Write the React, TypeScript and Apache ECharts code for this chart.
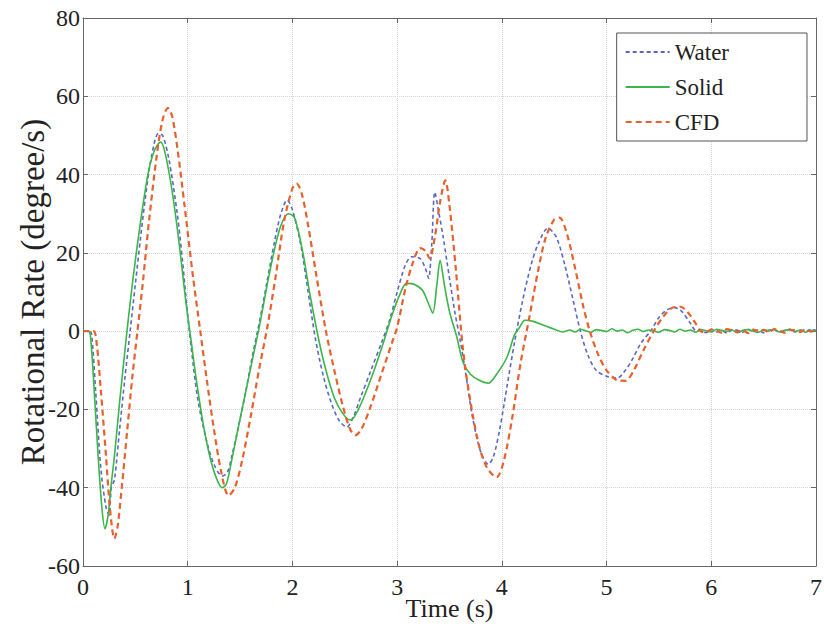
import React, { useEffect, useRef } from "react";
import * as echarts from "echarts";

// ---- Data ----
const X_TICKS = [0, 1, 2, 3, 4, 5, 6, 7];
const Y_TICKS = [-60, -40, -20, 0, 20, 40, 60, 80];

const waterT = [0, 0.05, 0.08, 0.12, 0.17, 0.22, 0.25, 0.27, 0.3, 0.35, 0.4, 0.45, 0.5, 0.55, 0.6, 0.65, 0.72, 0.76, 0.82, 0.9, 0.95, 1.0, 1.05, 1.1, 1.18, 1.25, 1.33, 1.38, 1.42, 1.48, 1.55, 1.62, 1.69, 1.76, 1.83, 1.89, 1.95, 2.0, 2.08, 2.15, 2.22, 2.3, 2.38, 2.45, 2.52, 2.58, 2.65, 2.75, 2.85, 2.93, 3.0, 3.08, 3.14, 3.22, 3.27, 3.3, 3.33, 3.36, 3.4, 3.44, 3.48, 3.55, 3.6, 3.65, 3.72, 3.8, 3.87, 3.92, 3.98, 4.05, 4.12, 4.2, 4.28, 4.35, 4.44, 4.52, 4.6, 4.68, 4.75, 4.82, 4.9, 5.0, 5.1, 5.18, 5.25, 5.33, 5.42, 5.5, 5.58, 5.65, 5.72, 5.8, 5.86];
const waterV = [0, 0, -0.5, -15, -35, -45, -47, -40, -38, -25, -12, 0, 12, 24, 35, 44, 50.5, 50, 44, 30, 18, 4, -8, -18, -28, -34, -37, -36, -32, -25, -16, -6, 3, 13, 23, 30, 33.5, 31, 22, 10, -2, -12, -19, -23, -24.5, -22, -17, -10, -3, 3, 10, 17, 19, 18.5, 16, 13.5, 22, 35.5, 30, 24, 17, 5, -2, -10, -22, -31, -34, -32, -25, -14, -3, 8, 17, 22.5, 26.3, 24, 17, 8, 0, -6, -10, -11.5, -12, -10, -7, -3, 0, 3.5, 5.5, 6, 5, 2, 0];
const waterTailStart = 5.9;
const waterTail = [0.3, -0.4, 0.5, -0.2, 0.1, -0.5, 0.4, 0.2, -0.3, 0.5, -0.1, 0.3, -0.4, 0.2, 0.4, -0.3, 0.1, 0.5, -0.2, 0.3, -0.1, 0.4, 0.2];

const solidT = [0, 0.05, 0.07, 0.1, 0.14, 0.18, 0.21, 0.24, 0.27, 0.3, 0.35, 0.42, 0.48, 0.55, 0.62, 0.68, 0.74, 0.78, 0.85, 0.92, 0.98, 1.03, 1.08, 1.15, 1.22, 1.28, 1.33, 1.37, 1.42, 1.48, 1.55, 1.62, 1.69, 1.76, 1.83, 1.89, 1.96, 2.02, 2.1, 2.17, 2.25, 2.32, 2.4, 2.48, 2.55, 2.6, 2.68, 2.78, 2.88, 2.95, 3.02, 3.09, 3.16, 3.24, 3.3, 3.34, 3.38, 3.41, 3.45, 3.5, 3.57, 3.63, 3.7, 3.78, 3.87, 3.95, 4.05, 4.12, 4.17, 4.22, 4.3, 4.4, 4.5, 4.58];
const solidV = [0, 0, -1, -12, -30, -45, -50.5, -47, -39, -32, -18, 0, 14, 28, 40, 46, 48.3, 46, 36, 22, 8, -2, -12, -24, -33, -38, -40, -39, -33, -25, -16, -7, 2, 12, 21, 27, 30, 29, 20, 9, -2, -10, -17, -21, -22.7, -21.5, -17, -10, -2, 4, 9, 12.2, 12, 10.5, 7, 4.6, 12, 18.1, 12, 5, -1.5, -8, -11, -12.5, -13.3, -11, -6.6, -1, 1, 2.8, 2.5, 1.5, 0.5, -0.2];
const solidTailStart = 4.65;
const solidTail = [0.3, -0.2, 0.5, 0.1, -0.3, 0.4, 0.2, -0.1, 0.6, 0.0, 0.3, -0.4, 0.2, 0.5, -0.1, 0.3, 0.1, -0.3, 0.4, 0.2, -0.2, 0.5, 0.0, 0.3, -0.3, 0.4, 0.1, -0.2, 0.5, 0.2, -0.1, 0.3, -0.4, 0.2, 0.4, 0.0, -0.3, 0.3, 0.1, 0.5, -0.2, 0.2, 0.4, -0.1, 0.3, -0.3, 0.2, 0.1];

const cfdT = [0, 0.1, 0.13, 0.17, 0.22, 0.26, 0.3, 0.33, 0.37, 0.42, 0.47, 0.52, 0.57, 0.63, 0.7, 0.76, 0.81, 0.85, 0.9, 0.97, 1.05, 1.12, 1.18, 1.25, 1.32, 1.39, 1.45, 1.52, 1.6, 1.68, 1.76, 1.84, 1.92, 2.0, 2.04, 2.09, 2.15, 2.23, 2.32, 2.4, 2.48, 2.55, 2.6, 2.66, 2.75, 2.85, 2.95, 3.0, 3.08, 3.15, 3.22, 3.27, 3.31, 3.36, 3.41, 3.46, 3.5, 3.56, 3.63, 3.7, 3.78, 3.86, 3.95, 4.02, 4.1, 4.18, 4.27, 4.35, 4.42, 4.5, 4.55, 4.62, 4.7, 4.78, 4.84, 4.92, 5.0, 5.1, 5.18, 5.26, 5.35, 5.45, 5.55, 5.63, 5.7, 5.77, 5.85, 5.9];
const cfdV = [0, 0, -3, -15, -32, -46, -53, -50, -40, -26, -12, 0, 12, 28, 44, 54, 57, 55, 47, 32, 14, 0, -12, -25, -36, -42, -40, -33, -22, -10, 1, 14, 28, 36.5, 37.7, 35, 27, 14, 0, -10, -19, -25, -26.6, -25, -19, -11, -3, 1, 11, 17.5, 21.2, 20.5, 18.6, 24, 33, 38.5, 32, 16, -5, -18, -29, -35, -37.3, -33, -22, -8, 4.6, 16, 24, 28.5, 29, 25, 16, 6, 0, -6, -10, -12.5, -12.7, -10, -5, 0, 4, 6, 6.3, 5, 2, 0];
const cfdTailStart = 5.95;
const cfdTail = [-0.3, 0.4, 0.1, -0.4, 0.5, 0.2, -0.2, 0.3, -0.5, 0.4, 0.0, 0.3, -0.3, 0.5, 0.1, -0.4, 0.3, 0.2, -0.2, 0.4, -0.1, 0.2];

const TAIL_STEP = 0.05;

function buildSeries(ts: number[], vs: number[], tailStart: number, tail: number[]) {
  const pts: number[][] = ts.map((t, i) => [t, vs[i]]);
  tail.forEach((v, i) => {
    pts.push([+(tailStart + i * TAIL_STEP).toFixed(3), v]);
  });
  return pts;
}

const FONT = "'Liberation Serif', 'DejaVu Serif', serif";

export default function App() {
  const ref = useRef<HTMLDivElement>(null);
  useEffect(() => {
    if (!ref.current) return;
    const chart = echarts.init(ref.current, undefined, { renderer: "svg" });
    const frame = "#666";
    const baseX = {
      type: "value" as const,
      min: X_TICKS[0],
      max: X_TICKS[X_TICKS.length - 1],
      interval: 1,
    };
    const baseY = {
      type: "value" as const,
      min: Y_TICKS[0],
      max: Y_TICKS[Y_TICKS.length - 1],
      interval: 20,
    };
    chart.setOption({
      animation: false,
      backgroundColor: "#fff",
      textStyle: { fontFamily: FONT },
      grid: { left: 83, top: 18, right: 8, bottom: 66, containLabel: false, outerBoundsMode: "none" },
      legend: {
        orient: "vertical",
        right: 17,
        top: 33,
        backgroundColor: "#fff",
        borderColor: "#555",
        borderWidth: 1,
        padding: [7, 78, 7, 8],
        itemWidth: 44,
        itemHeight: 14,
        itemGap: 11,
        itemStyle: { opacity: 0 },
        textStyle: { fontFamily: FONT, fontSize: 23, color: "#222", lineHeight: 24 },
        data: ["Water", "Solid", "CFD"],
      },
      xAxis: [
        {
          ...baseX,
          name: "Time (s)",
          nameLocation: "middle",
          nameGap: 29,
          nameMoveOverlap: false,
          nameTextStyle: { fontFamily: FONT, fontSize: 26, color: "#222" },
          axisLine: { show: true, onZero: false, lineStyle: { color: frame } },
          axisTick: { show: true, inside: true, length: 5, lineStyle: { color: frame } },
          axisLabel: { fontFamily: FONT, fontSize: 24, color: "#222", margin: 9 },
          splitLine: { show: true, lineStyle: { color: "#d6d6d6", type: "dotted" } },
        },
        {
          ...baseX,
          position: "top",
          axisLine: { show: true, onZero: false, lineStyle: { color: frame } },
          axisTick: { show: true, inside: true, length: 5, lineStyle: { color: frame } },
          axisLabel: { show: false },
          splitLine: { show: false },
        },
      ],
      yAxis: [
        {
          ...baseY,
          name: "Rotational Rate (degree/s)",
          nameLocation: "middle",
          nameGap: 34,
          nameMoveOverlap: false,
          nameTextStyle: { fontFamily: FONT, fontSize: 33, color: "#222" },
          axisLine: { show: true, onZero: false, lineStyle: { color: frame } },
          axisTick: { show: true, inside: true, length: 5, lineStyle: { color: frame } },
          axisLabel: { fontFamily: FONT, fontSize: 24, color: "#222", margin: 3 },
          splitLine: { show: true, lineStyle: { color: "#d6d6d6", type: "dotted" } },
        },
        {
          ...baseY,
          position: "right",
          axisLine: { show: true, onZero: false, lineStyle: { color: frame } },
          axisTick: { show: true, inside: true, length: 5, lineStyle: { color: frame } },
          axisLabel: { show: false },
          splitLine: { show: false },
        },
      ],
      series: [
        {
          name: "Water",
          type: "line",
          xAxisIndex: 0,
          yAxisIndex: 0,
          symbol: "none",
          smooth: 0.3,
          data: buildSeries(waterT, waterV, waterTailStart, waterTail),
          lineStyle: { color: "#5a68c4", width: 1.6, type: [4, 3] },
          itemStyle: { color: "#5a68c4" },
        },
        {
          name: "Solid",
          type: "line",
          xAxisIndex: 0,
          yAxisIndex: 0,
          symbol: "none",
          smooth: 0.3,
          data: buildSeries(solidT, solidV, solidTailStart, solidTail),
          lineStyle: { color: "#3cb54a", width: 1.6, type: "solid" },
          itemStyle: { color: "#3cb54a" },
        },
        {
          name: "CFD",
          type: "line",
          xAxisIndex: 0,
          yAxisIndex: 0,
          symbol: "none",
          smooth: 0.3,
          data: buildSeries(cfdT, cfdV, cfdTailStart, cfdTail),
          lineStyle: { color: "#e8602c", width: 2.2, type: [6, 4] },
          itemStyle: { color: "#e8602c" },
        },
      ],
    });
    return () => chart.dispose();
  }, []);
  return (
    <div
      ref={ref}
      style={{ position: "fixed", left: 0, top: 0, width: 824, height: 632, background: "#fff" }}
    />
  );
}
